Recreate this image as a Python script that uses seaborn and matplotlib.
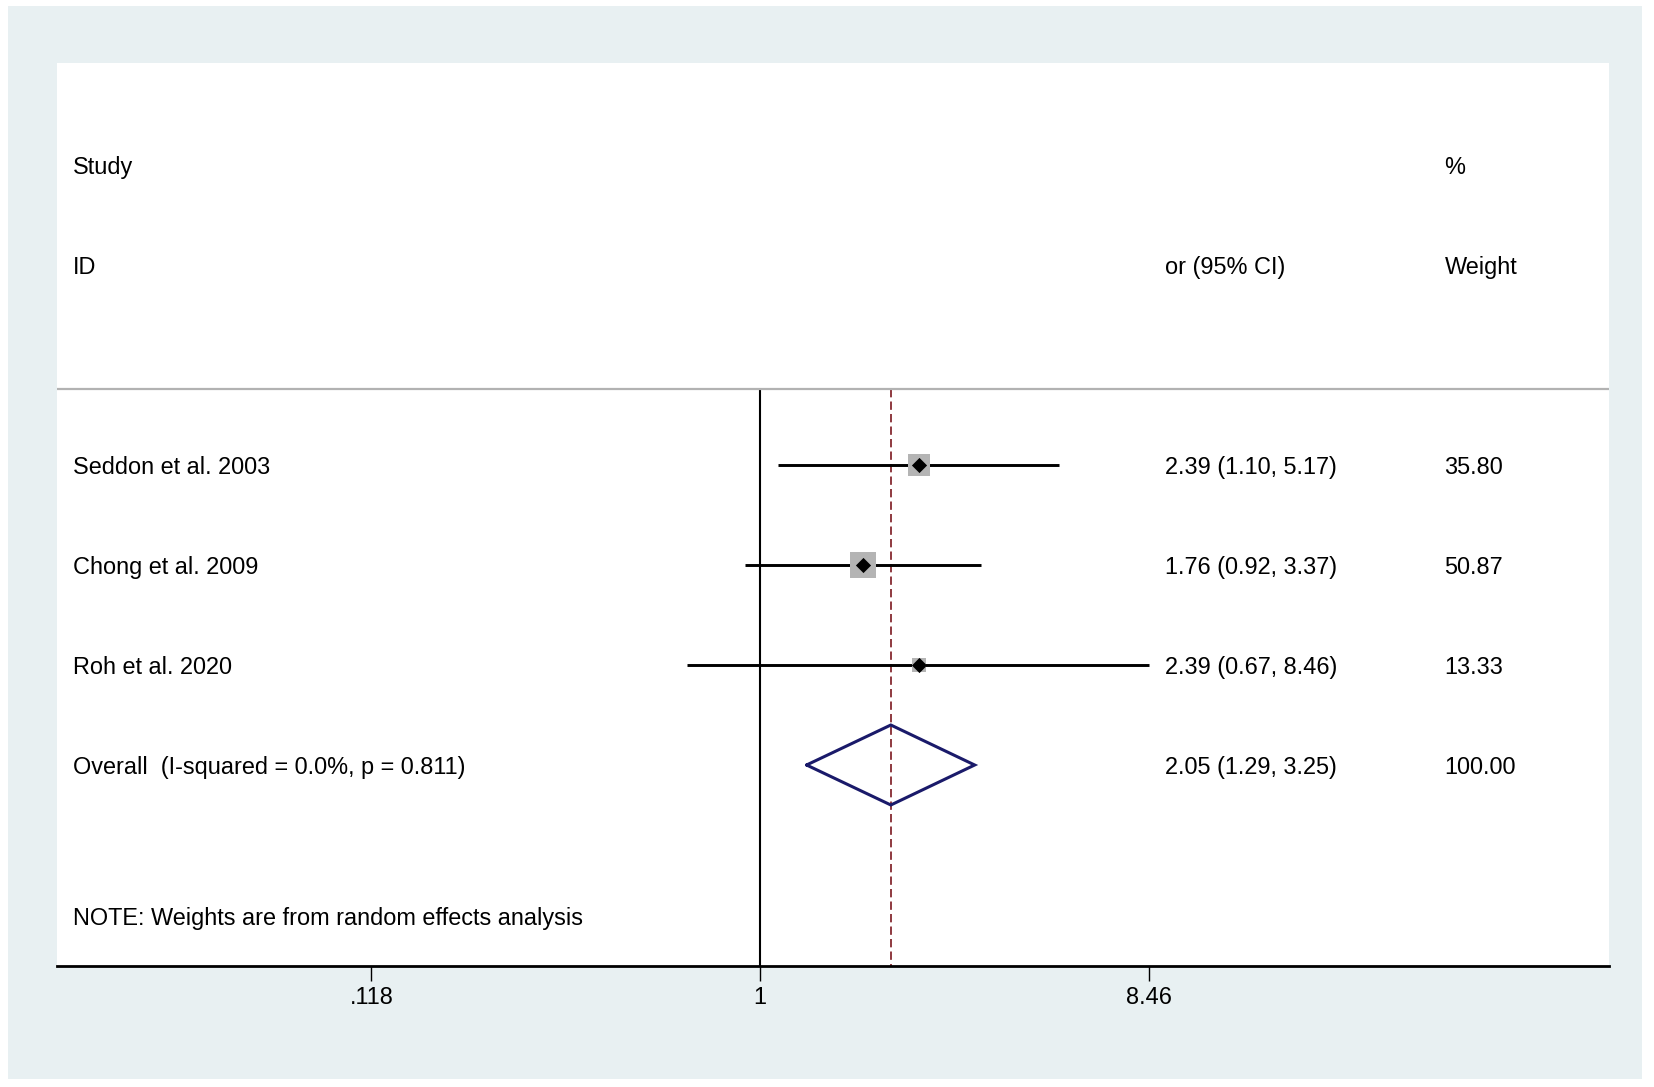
import matplotlib
matplotlib.use("Agg")
import matplotlib.pyplot as plt
from matplotlib.patches import Rectangle
from matplotlib.ticker import FixedLocator, FixedFormatter, NullLocator
import seaborn as sns
import pandas as pd
import numpy as np

# ---------------- data ----------------
studies = ["Seddon et al. 2003", "Chong et al. 2009", "Roh et al. 2020"]
or_est = [2.39, 1.76, 2.39]
ci_low = [1.10, 0.92, 0.67]
ci_high = [5.17, 3.37, 8.46]
weights = [35.80, 50.87, 13.33]

overall_label = "Overall  (I-squared = 0.0%, p = 0.811)"
overall_est = 2.05
overall_low = 1.29
overall_high = 3.25
overall_weight = 100.00

tick_values = [0.118, 1, 8.46]
tick_labels = [".118", "1", "8.46"]

header_left = ["Study", "ID"]
header_mid = "or (95% CI)"
header_right = ["%", "Weight"]
note_text = "NOTE: Weights are from random effects analysis"

# ---------------- style ----------------
sns.set_theme(style="white")
plt.rcParams["font.family"] = ["Liberation Sans", "DejaVu Sans"]
plt.rcParams["lines.scale_dashes"] = False
plt.rcParams["text.color"] = "black"

W, H, DPI = 1654, 1087, 200
fig = plt.figure(figsize=(W / DPI, H / DPI), dpi=DPI)
fig.patch.set_facecolor("white")
bg = Rectangle((8 / W, 8 / H), (1642 - 8) / W, (1080 - 7) / H,
               transform=fig.transFigure, facecolor="#E8F0F2",
               edgecolor="none", zorder=-10)
fig.patches.append(bg)

ax = fig.add_axes([56.6 / W, (H - 966) / H, 1552 / W, (966 - 63) / H])
ax.set_zorder(5)
ax.set_facecolor("white")

FS = 8.45
rows = [4, 5, 6]
overall_row = 7
line_row = 3.24
note_row = 8.51
ymax_row = 9.01

df = pd.DataFrame({"study": studies, "est": or_est, "lo": ci_low,
                   "hi": ci_high, "w": weights, "row": rows})

# reference lines
ax.vlines(1, line_row, ymax_row, color="black", lw=0.75, zorder=2)
ax.vlines(overall_est, line_row, ymax_row, color="#862A30", lw=0.65,
          linestyles=[(0, (3.0, 1.5))], zorder=2)
ax.axhline(line_row, color="#B2B2B2", lw=0.8, zorder=2)

# confidence intervals
ax.hlines(df["row"], df["lo"], df["hi"], color="black", lw=1.05, zorder=3)

# weight boxes
k = 1.82
sns.scatterplot(data=df, x="est", y="row", size="w",
                sizes=(min(weights) * k, max(weights) * k),
                size_norm=(min(weights), max(weights)),
                marker="s", color="#B4B4B4", linewidth=0, legend=False,
                ax=ax, zorder=4)
# point estimates
sns.scatterplot(data=df, x="est", y="row", marker="D", color="black",
                s=15, linewidth=0, legend=False, ax=ax, zorder=5)

# overall diamond
dh = 0.40
ax.plot([overall_low, overall_est, overall_high, overall_est, overall_low],
        [overall_row, overall_row - dh, overall_row, overall_row + dh, overall_row],
        color="#1A1A6A", lw=1.1, zorder=5, solid_joinstyle="miter")

# axes scaling
ax.set_xscale("log")
ax.set_xlim(0.0209, 106)
ax.set_ylim(ymax_row, -0.02)
ax.xaxis.set_major_locator(FixedLocator(tick_values))
ax.xaxis.set_major_formatter(FixedFormatter(tick_labels))
ax.xaxis.set_minor_locator(NullLocator())
ax.set_yticks([])
ax.set_xlabel("")
ax.set_ylabel("")
for s in ["top", "left", "right"]:
    ax.spines[s].set_visible(False)
ax.spines["bottom"].set_color("black")
ax.spines["bottom"].set_linewidth(1.0)
ax.tick_params(axis="x", bottom=True, length=5.4, width=0.5, color="black",
               labelsize=FS, pad=1.8, labelcolor="black")

# text columns (axes-fraction x, data y)
tr = ax.get_yaxis_transform()
x_left, x_mid, x_right = 0.0104, 0.714, 0.8943
VA = "center_baseline"
kw = dict(transform=tr, va=VA, ha="left", fontsize=FS, color="black")
ax.text(x_left, 1, header_left[0], **kw)
ax.text(x_left, 2, header_left[1], **kw)
ax.text(x_mid, 2, header_mid, **kw)
ax.text(x_right, 1, header_right[0], **kw)
ax.text(x_right, 2, header_right[1], **kw)

for _, r in df.iterrows():
    ax.text(x_left, r["row"], r["study"], **kw)
    ax.text(x_mid, r["row"], f"{r['est']:.2f} ({r['lo']:.2f}, {r['hi']:.2f})", **kw)
    ax.text(x_right, r["row"], f"{r['w']:.2f}", **kw)

ax.text(x_left, overall_row, overall_label, **kw)
ax.text(x_mid, overall_row,
        f"{overall_est:.2f} ({overall_low:.2f}, {overall_high:.2f})", **kw)
ax.text(x_right, overall_row, f"{overall_weight:.2f}", **kw)
ax.text(x_left, note_row, note_text, **kw)

fig.savefig("out.png", dpi=DPI, facecolor="white")
